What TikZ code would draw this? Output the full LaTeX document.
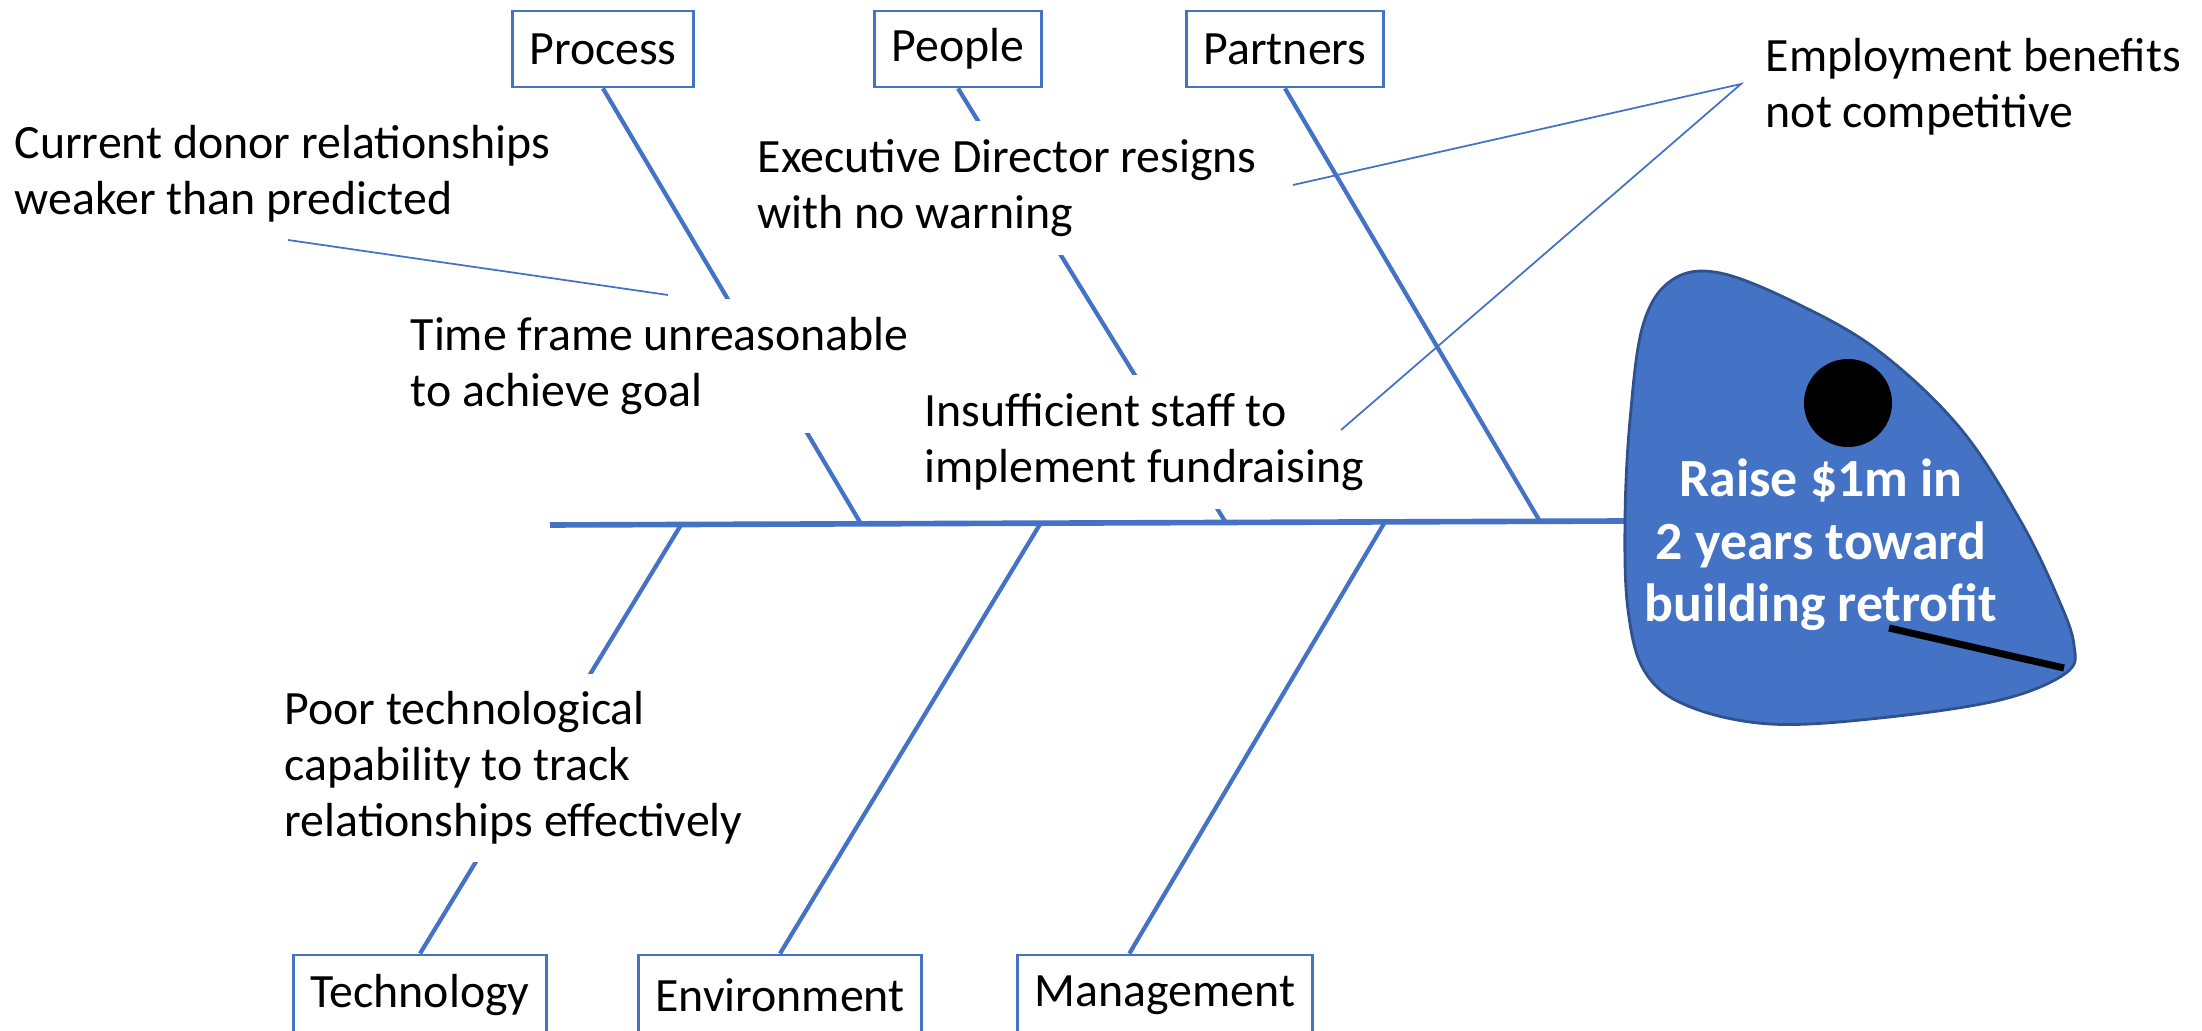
\documentclass[tikz,border=0pt]{standalone}
\usepackage{fontspec}
\setmainfont{Carlito}
\usetikzlibrary{calc}
\definecolor{fishblue}{HTML}{4472C4}
\definecolor{fishedge}{HTML}{2F528F}

\tikzset{
  catbox/.style={draw=fishblue,line width=0.8pt,fill=white,inner xsep=0.17cm,minimum height=0.76cm,font=\fontsize{13.6}{15.9}\selectfont},
  cause/.style={fill=white,anchor=west,align=left,inner xsep=0.1cm,inner ysep=0.18cm,font=\fontsize{13.6}{15.9}\selectfont},
  bone/.style={draw=fishblue,line width=1.2pt},
  hint/.style={draw=fishblue,line width=0.5pt},
}

\begin{document}
\begin{tikzpicture}[x=0.01cm,y=-0.01cm]
\useasboundingbox (0,0) rectangle (2202,1031);

% categories
\node (process) [catbox] at (603,49) {Process};
\node (people) [catbox] at (958,49) {People};
\node (partners) [catbox] at (1285,49) {Partners};
\node (tech) [catbox,minimum height=0.8cm] at (420,995) {Technology};
\node (env) [catbox,minimum height=0.8cm] at (780,995) {Environment};
\node (mgmt) [catbox,minimum height=0.8cm] at (1165,995) {Management};

% spine and bones
\coordinate (tail) at (550,525);
\coordinate (head) at (1626,521);
\draw [bone,line width=1.6pt] (tail)--(head);
\draw [bone] (process.south)--($(tail)!0.289!(head)$);
\draw [bone] (people.south)--($(tail)!0.628!(head)$);
\draw [bone] (partners.south)--($(tail)!0.920!(head)$);
\draw [bone] ($(tail)!0.122!(head)$)--(tech.north);
\draw [bone] ($(tail)!0.456!(head)$)--(env.north);
\draw [bone] ($(tail)!0.776!(head)$)--($(mgmt.north west)!0.38!(mgmt.north east)$);

% causes
\node (donor) [cause] at (4,174) {Current donor relationships\\weaker than predicted};
\node (exec) [cause] at (747,188) {Executive Director resigns\\with no warning};
\node (benefits) [cause] at (1755,87) {Employment benefits\\not competitive};
\node (time) [cause] at (400,366) {Time frame unreasonable\\to achieve goal};
\node (staff) [cause] at (914,442) {Insufficient staff to\\implement fundraising};
\node (techcap) [cause] at (274,768) {Poor technological\\capability to track\\relationships effectively};

% pointers
\coordinate (donorA) at (288,240);
\coordinate (donorB) at (668,295);
\coordinate (benA) at (1741,84);
\coordinate (benB) at (1293,185);
\coordinate (benC) at (1341,430);
\draw [hint] (donorA)--(donorB);
\draw [hint] (benB)--(benA)--(benC);

% head
\draw [draw=fishedge,fill=fishblue,line width=0.8pt] plot[smooth cycle,tension=0.6] coordinates {
  (1625,520) (1630,420) (1643,325) (1672,280) (1720,273) (1800,305) (1880,352)
  (1960,428) (2020,520) (2058,598) (2074,645) (2066,673) (2000,700) (1880,718)
  (1770,724) (1688,706) (1645,672) (1628,610)};
\node (eye) [circle,fill=black,minimum size=0.88cm,inner sep=0pt] at (1848,403) {};
\coordinate (mouthA) at (1889,628);
\coordinate (mouthB) at (2064,668);
\draw [line width=2pt] (mouthA)--(mouthB);
\node (goal) [text=white,align=center,font=\bfseries\fontsize{15.3}{17.8}\selectfont] at (1821,545) {Raise \$1m in\\2 years toward\\building retrofit};
\end{tikzpicture}
\end{document}
